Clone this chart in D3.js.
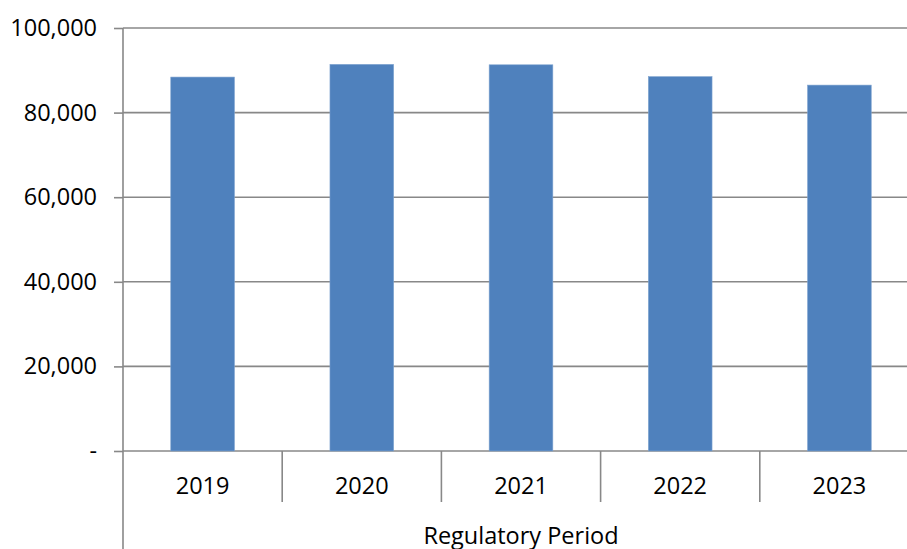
<!DOCTYPE html>
<html>
<head>
<meta charset="utf-8">
<script src="https://cdn.jsdelivr.net/npm/d3@7"></script>
<style>
body { margin: 0; background: #fff; }
svg text { font-family: "Open Sans", "Liberation Sans", sans-serif; fill: #000; }
</style>
</head>
<body>
<svg id="chart" width="907" height="549"></svg>
<script>
var years = ["2019", "2020", "2021", "2022", "2023"];
var values = [88400, 91400, 91300, 88500, 86500];
var yTicks = [0, 20000, 40000, 60000, 80000, 100000];
var axisTitle = "Regulatory Period";

var svg = d3.select("#chart");

var plotLeft = 123, plotRight = 919, plotTop = 28, plotBase = 451;

var x = d3.scaleBand()
	.domain(years)
	.range([plotLeft, plotRight])
	.paddingInner(0.6)
	.paddingOuter(0.3);

var y = d3.scaleLinear()
	.domain([0, 100000])
	.range([plotBase, plotTop]);

var fmt = d3.format(",");

// gridlines
svg.append("g")
	.selectAll("line")
	.data(yTicks).enter()
	.append("line")
	.attr("x1", plotLeft)
	.attr("x2", plotRight)
	.attr("y1", function(d){ return y(d); })
	.attr("y2", function(d){ return y(d); })
	.attr("stroke", "#888")
	.attr("stroke-width", 1.6);

// bars
svg.append("g")
	.selectAll("rect")
	.data(values).enter()
	.append("rect")
	.attr("x", function(d, i){ return x(years[i]); })
	.attr("width", x.bandwidth())
	.attr("y", function(d){ return y(d); })
	.attr("height", function(d){ return plotBase - y(d); })
	.attr("fill", "#4F81BD")
	.attr("stroke", "#7fa3cf")
	.attr("stroke-width", 0.6);

// y axis
var yAxis = svg.append("g")
	.attr("transform", "translate(" + plotLeft + ",0)")
	.call(d3.axisLeft(y)
		.tickValues(yTicks)
		.tickSize(9)
		.tickPadding(17)
		.tickFormat(function(d){ return d === 0 ? "-" : fmt(d); }));

yAxis.select(".domain").remove();
yAxis.selectAll(".tick line").attr("stroke", "#888").attr("stroke-width", 1.6);
yAxis.selectAll(".tick text")
	.attr("font-size", "23.5px")
	.attr("font-family", "'Open Sans', sans-serif")
	.attr("fill", "#000");

svg.append("line")
	.attr("x1", plotLeft).attr("x2", plotLeft)
	.attr("y1", plotTop).attr("y2", 549)
	.attr("stroke", "#888")
	.attr("stroke-width", 1.6);

// category dividers
var step = x.step();
svg.append("g")
	.selectAll("line")
	.data(years.slice(1)).enter()
	.append("line")
	.attr("x1", function(d){ return x(d) - step * x.paddingInner() / 2; })
	.attr("x2", function(d){ return x(d) - step * x.paddingInner() / 2; })
	.attr("y1", plotBase)
	.attr("y2", plotBase + 51)
	.attr("stroke", "#888")
	.attr("stroke-width", 1.6);

// category labels
svg.append("g")
	.selectAll("text")
	.data(years).enter()
	.append("text")
	.text(function(d){ return d; })
	.attr("x", function(d){ return x(d) + x.bandwidth() / 2; })
	.attr("y", 494)
	.attr("text-anchor", "middle")
	.attr("font-size", "23.5px");

svg.append("text")
	.text(axisTitle)
	.attr("x", (plotLeft + plotRight) / 2)
	.attr("y", 544)
	.attr("text-anchor", "middle")
	.attr("font-size", "23.5px");
</script>
</body>
</html>
